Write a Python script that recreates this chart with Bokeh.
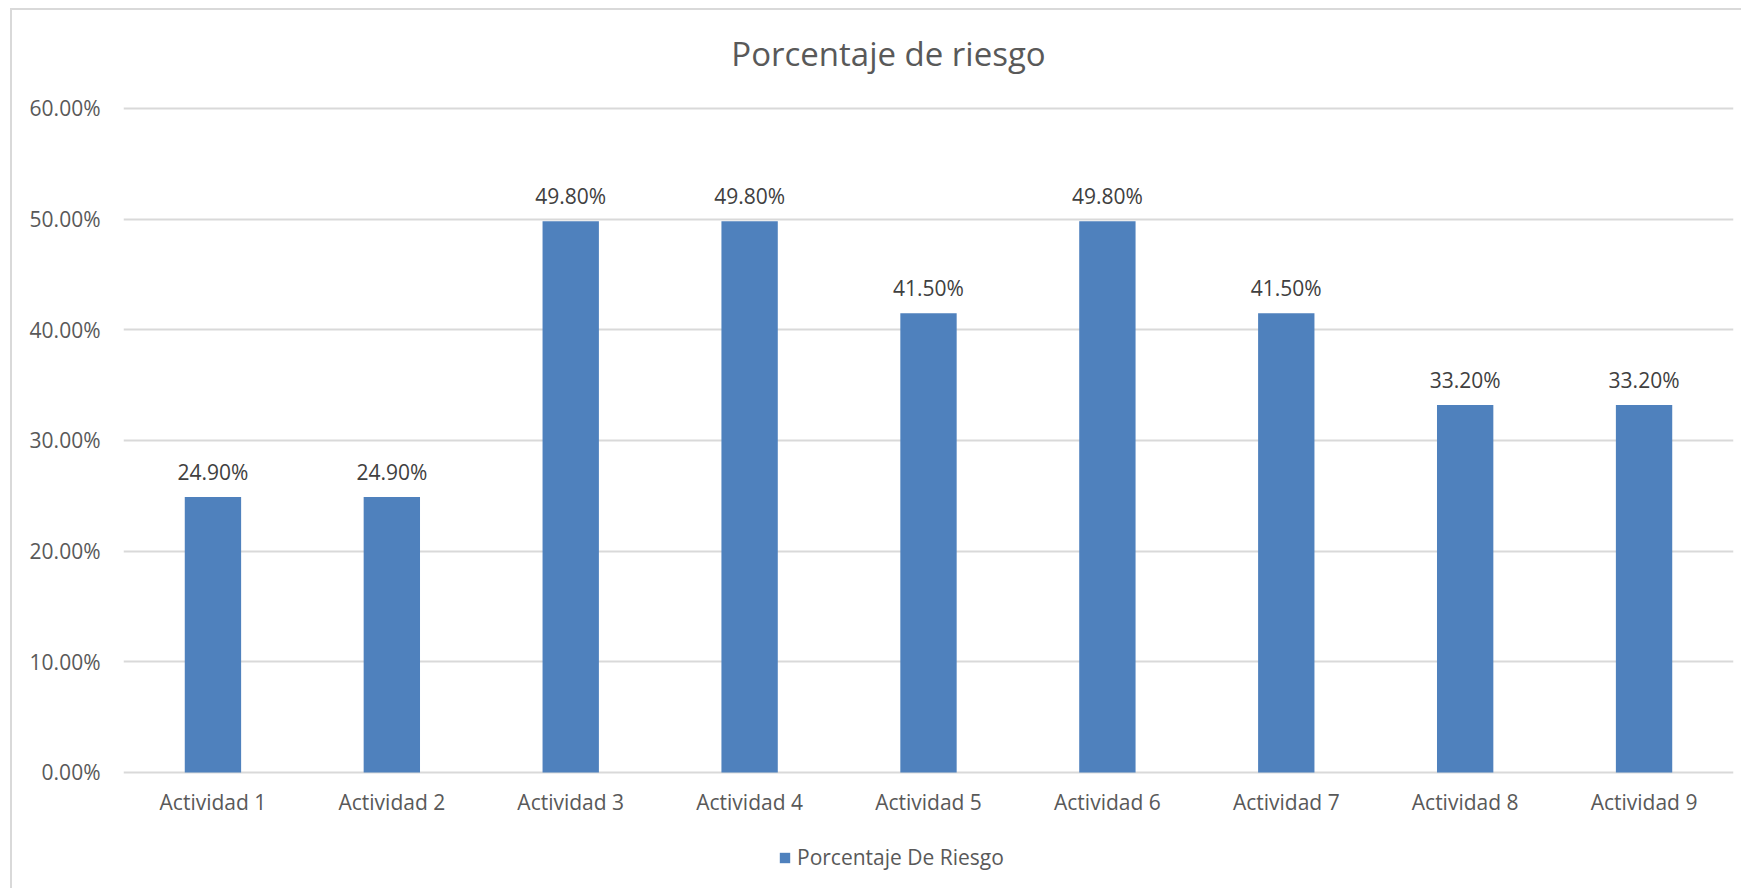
from bokeh.plotting import figure
from bokeh.models import ColumnDataSource, NumeralTickFormatter, FixedTicker, Legend, LegendItem, Range1d
from bokeh.core.properties import value
from bokeh.embed import file_html
from bokeh.resources import INLINE

categories = ["Actividad 1", "Actividad 2", "Actividad 3", "Actividad 4", "Actividad 5",
              "Actividad 6", "Actividad 7", "Actividad 8", "Actividad 9"]
values = [0.249, 0.249, 0.498, 0.498, 0.415, 0.498, 0.415, 0.332, 0.332]
labels = ["24.90%", "24.90%", "49.80%", "49.80%", "41.50%", "49.80%", "41.50%", "33.20%", "33.20%"]
y_ticks = [0.0, 0.1, 0.2, 0.3, 0.4, 0.5, 0.6]
series_name = "Porcentaje De Riesgo"
title_text = "Porcentaje de riesgo"

FONT = "Open Sans"
BAR = "#4F81BD"

src = ColumnDataSource(dict(cat=categories, val=values, lab=labels, zero=[0.0] * len(categories)))

# the frame fills the whole chart area so that title, category labels and legend sit inside it
p = figure(x_range=categories, y_range=Range1d(-0.0976, 0.68855), width=1731, height=880,
           output_backend="svg", toolbar_location=None,
           min_border_left=111, min_border_right=10, min_border_top=0, min_border_bottom=10)
p.styles = {"border-top": "2px solid #d9d9d9", "border-left": "2px solid #d9d9d9",
            "margin-left": "10px", "margin-top": "8px"}

r = p.vbar(x="cat", top="val", width=0.315, source=src, fill_color=BAR, line_color=None)

# chart title, centred over the chart area
p.text(x=[categories[4]], y=[y_ticks[-1]], text=[title_text], text_align="center",
       text_baseline="middle", x_offset=-40, y_offset=-55, text_font=value(FONT),
       text_font_size="33px", text_color="#595959")

# data labels
p.text(x="cat", y="val", text="lab", source=src, text_align="center", text_baseline="middle",
       y_offset=-25, text_font=value(FONT), text_font_size="21px", text_color="#404040")
# category labels
p.text(x="cat", y="zero", text="cat", source=src, text_align="center", text_baseline="middle",
       y_offset=30, text_font=value(FONT), text_font_size="21px", text_color="#595959")

p.outline_line_color = None
p.background_fill_color = "white"
p.border_fill_color = "white"
p.xgrid.grid_line_color = None
p.ygrid.grid_line_color = "#d9d9d9"
p.ygrid.grid_line_width = 2
p.yaxis.ticker = FixedTicker(ticks=y_ticks)
p.yaxis.formatter = NumeralTickFormatter(format="0.00%")
p.yaxis.axis_line_color = None
p.yaxis.major_tick_line_color = None
p.yaxis.minor_tick_line_color = None
p.yaxis.major_tick_out = 0
p.yaxis.major_label_standoff = 23
p.yaxis.major_label_text_font = FONT
p.yaxis.major_label_text_font_size = "21px"
p.yaxis.major_label_text_color = "#595959"
p.xaxis.visible = False

legend = Legend(items=[LegendItem(label=series_name, renderers=[r])], orientation="horizontal",
                location=(655, 9), label_text_font=FONT, label_text_font_size="21px",
                label_text_color="#595959", glyph_width=13, glyph_height=13, border_line_color=None,
                background_fill_alpha=0, padding=4, margin=0, label_standoff=6)
p.add_layout(legend)

open("out.html", "w").write(file_html(p, INLINE))
